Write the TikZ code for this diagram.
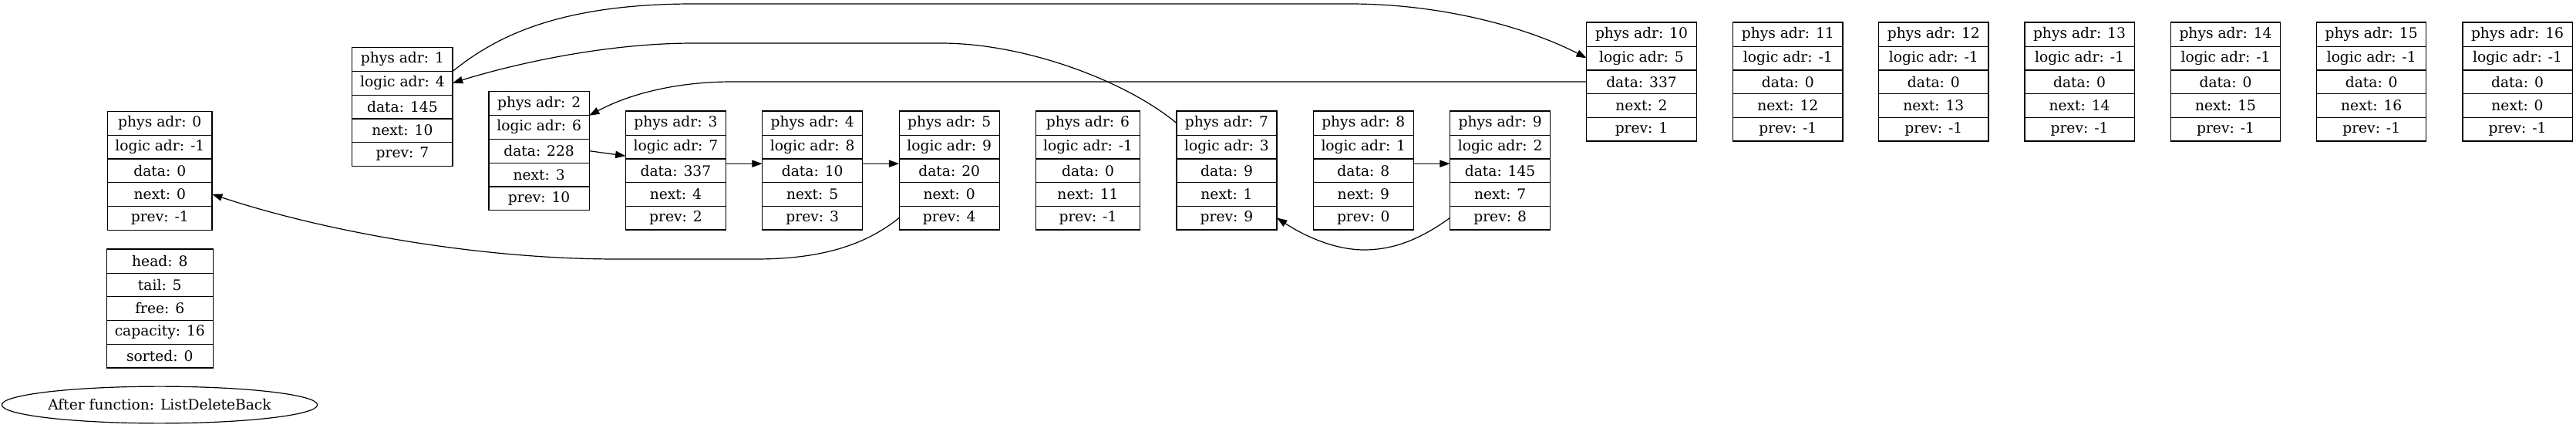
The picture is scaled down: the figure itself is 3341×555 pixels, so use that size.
\documentclass[tikz,border=0pt]{standalone}
\usepackage{fontspec}
\setmainfont{DejaVu Serif}
\usetikzlibrary{arrows.meta,shapes.geometric}
% record: name, centre x, top y, width (px), five field labels
\newcommand\recbox[9]{%
  \node[cell,minimum width=#4*0.75pt] (#1-1) at ({#2},{#3+15.35}) {#5};
  \node[cell,minimum width=#4*0.75pt] (#1-2) at ({#2},{#3+46.05}) {#6};
  \node[cell,minimum width=#4*0.75pt] (#1-3) at ({#2},{#3+76.75}) {#7};
  \node[cell,minimum width=#4*0.75pt] (#1-4) at ({#2},{#3+107.45}) {#8};
  \node[cell,minimum width=#4*0.75pt] (#1-5) at ({#2},{#3+138.15}) {#9};
  \draw[recline] (#1-1.north west) rectangle (#1-5.south east);
  \draw[recline] (#1-1.south west) -- (#1-1.south east);
  \draw[recline] (#1-2.south west) -- (#1-2.south east);
  \draw[recline] (#1-3.south west) -- (#1-3.south east);
  \draw[recline] (#1-4.south west) -- (#1-4.south east);
}
\begin{document}
\begin{tikzpicture}[x=0.75pt,y=-0.75pt,
  cell/.style={rectangle,minimum height=23.03pt,inner sep=0pt,
    font=\fontsize{14pt}{16pt}\selectfont},
  recline/.style={line width=0.9pt},
  conn/.style={draw,line width=0.9pt,-{Triangle[length=10pt,width=7pt]}},
  label/.style={draw,ellipse,line width=0.9pt,minimum width=303pt,minimum height=35.8pt,inner sep=0pt,
    font=\fontsize{14pt}{16pt}\selectfont}]
\useasboundingbox (0,0) rectangle (3341,555);

\recbox{n0}{207.3}{144.4}{135}{phys adr: 0}{logic adr: -1}{data: 0}{next: 0}{prev: -1}
\recbox{st}{207.3}{323.2}{137.7}{head: 8}{tail: 5}{free: 6}{capacity: 16}{sorted: 0}
\node[label] (title) at (207,525) {After function: ListDeleteBack};

\recbox{n1}{521.9}{61.6}{129.5}{phys adr: 1}{logic adr: 4}{data: 145}{next: 10}{prev: 7}
\recbox{n2}{699.1}{118.9}{129.5}{phys adr: 2}{logic adr: 6}{data: 228}{next: 3}{prev: 10}
\recbox{n3}{876.4}{144.3}{129.5}{phys adr: 3}{logic adr: 7}{data: 337}{next: 4}{prev: 2}
\recbox{n4}{1053.7}{144.3}{129.5}{phys adr: 4}{logic adr: 8}{data: 10}{next: 5}{prev: 3}
\recbox{n5}{1231.2}{144.3}{129.5}{phys adr: 5}{logic adr: 9}{data: 20}{next: 0}{prev: 4}
\recbox{n6}{1411}{144.3}{135}{phys adr: 6}{logic adr: -1}{data: 0}{next: 11}{prev: -1}
\recbox{n7}{1591}{144.3}{129.5}{phys adr: 7}{logic adr: 3}{data: 9}{next: 1}{prev: 9}
\recbox{n8}{1768.3}{144.3}{129.5}{phys adr: 8}{logic adr: 1}{data: 8}{next: 9}{prev: 0}
\recbox{n9}{1945.6}{144.3}{129.5}{phys adr: 9}{logic adr: 2}{data: 145}{next: 7}{prev: 8}
\recbox{n10}{2129}{29.3}{142}{phys adr: 10}{logic adr: 5}{data: 337}{next: 2}{prev: 1}
\recbox{n11}{2318.8}{29.3}{141.7}{phys adr: 11}{logic adr: -1}{data: 0}{next: 12}{prev: -1}
\recbox{n12}{2507.8}{29.3}{141.7}{phys adr: 12}{logic adr: -1}{data: 0}{next: 13}{prev: -1}
\recbox{n13}{2697}{29.3}{141.7}{phys adr: 13}{logic adr: -1}{data: 0}{next: 14}{prev: -1}
\recbox{n14}{2886.5}{29.3}{141.7}{phys adr: 14}{logic adr: -1}{data: 0}{next: 15}{prev: -1}
\recbox{n15}{3075.7}{29.3}{141.7}{phys adr: 15}{logic adr: -1}{data: 0}{next: 16}{prev: -1}
\recbox{n16}{3265}{29.3}{141.7}{phys adr: 16}{logic adr: -1}{data: 0}{next: 0}{prev: -1}

% next pointers
\draw[conn] (n1-1.south east) .. controls (640,50) and (720,5) .. (900,5) -- (1750,5)
  .. controls (1880,5) and (1990,40) .. (n10-2.west);
\draw[conn] (n7-1.west) .. controls (1460,105) and (1330,56) .. (1220,56) -- (900,56)
  .. controls (780,56) and (660,85) .. (n1-2.east);
\draw[conn] (n10-3.west) -- (950,106) .. controls (870,106) and (810,125) .. (n2-1.south east);
\draw[conn] (n2-3.east) -- ([yshift=2.8pt]n3-2.south west);
\draw[conn] ([yshift=-4.7pt]n3-2.south east) -- ([yshift=-4.7pt]n4-2.south west);
\draw[conn] ([yshift=-4.7pt]n4-2.south east) -- ([yshift=-4.7pt]n5-2.south west);
\draw[conn] (n5-5.west) .. controls (1120,320) and (1060,336) .. (980,336) -- (800,336)
  .. controls (620,336) and (420,300) .. (n0-4.east);
\draw[conn] ([yshift=-4.7pt]n8-2.south east) -- ([yshift=-4.7pt]n9-2.south west);
\draw[conn] (n9-5.west) .. controls (1840,312) and (1805,324) .. (1769,324)
  .. controls (1730,324) and (1690,305) .. (n7-5.east);
\end{tikzpicture}
\end{document}
